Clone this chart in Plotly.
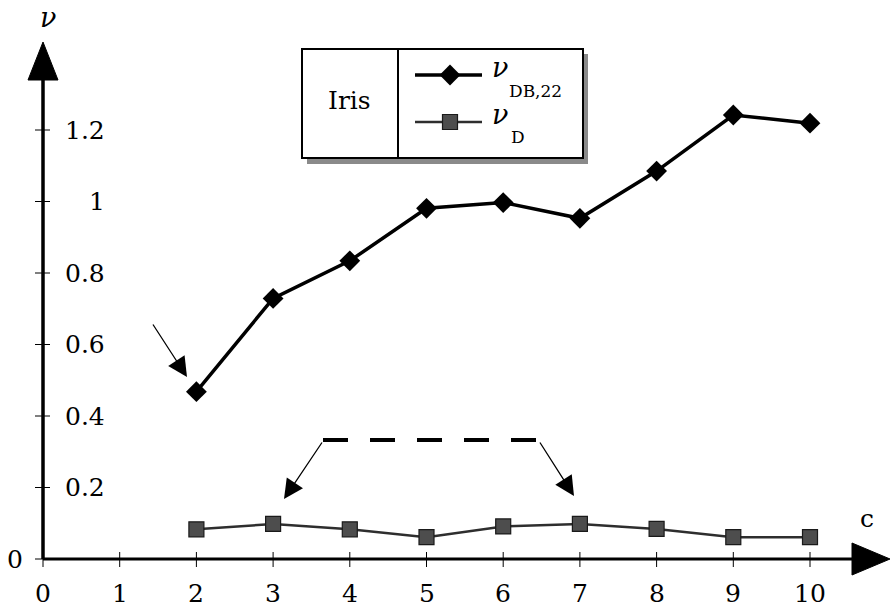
import plotly.graph_objects as go

# ---------------- data ----------------
c_values = [2, 3, 4, 5, 6, 7, 8, 9, 10]
v_db22 = [0.468, 0.729, 0.834, 0.981, 0.997, 0.953, 1.085, 1.242, 1.219]
v_d = [0.083, 0.098, 0.083, 0.061, 0.091, 0.098, 0.084, 0.061, 0.061]

x_ticks = [0, 1, 2, 3, 4, 5, 6, 7, 8, 9, 10]
x_tick_labels = ["0", "1", "2", "3", "4", "5", "6", "7", "8", "9", "10"]
y_ticks = [0.2, 0.4, 0.6, 0.8, 1, 1.2]
y_tick_labels = ["0.2", "0.4", "0.6", "0.8", "1", "1.2"]

# ---------------- layout geometry ----------------
W, H = 891, 608
X0, XS = 43.0, 76.7      # pixel of c=0, pixels per unit
Y0, YS = 559.0, 357.5    # pixel of v=0, pixels per unit
FONT = "DejaVu Serif"

x_range = [-X0 / XS, (W - X0) / XS]
y_range = [-(H - Y0) / YS, Y0 / YS]


def dx(px):
    return px / XS


def dy(px):
    return px / YS


fig = go.Figure()

# data series
fig.add_trace(go.Scatter(
    x=c_values, y=v_d, mode="lines+markers",
    line=dict(color="#2e2e2e", width=2.5),
    marker=dict(symbol="square", size=15, color="#4d4d4d",
                line=dict(color="#1a1a1a", width=1.2)),
    showlegend=False, cliponaxis=False, hoverinfo="skip"))
fig.add_trace(go.Scatter(
    x=c_values, y=v_db22, mode="lines+markers",
    line=dict(color="black", width=3.5),
    marker=dict(symbol="diamond", size=16, color="black"),
    showlegend=False, cliponaxis=False, hoverinfo="skip"))

shapes = []
annotations = []

# ---- axes (data coordinates) ----
x_end = dx(852 - X0)
x_tip = dx(890 - X0)
y_end = dy(Y0 - 80)
y_tip = dy(Y0 - 42)
shapes.append(dict(type="line", xref="x", yref="y", x0=0, x1=x_end, y0=0, y1=0,
                   line=dict(color="black", width=3)))
shapes.append(dict(type="line", xref="x", yref="y", x0=0, x1=0, y0=0, y1=y_end,
                   line=dict(color="black", width=3.5)))
shapes.append(dict(type="path", xref="x", yref="y",
                   path=f"M {x_end},{-dy(16)} L {x_tip},0 L {x_end},{dy(16)} Z",
                   fillcolor="black", line=dict(color="black", width=1)))
shapes.append(dict(type="path", xref="x", yref="y",
                   path=f"M {-dx(15)},{y_end} L 0,{y_tip} L {dx(15)},{y_end} Z",
                   fillcolor="black", line=dict(color="black", width=1)))

for t, lab in zip(x_ticks, x_tick_labels):
    shapes.append(dict(type="line", xref="x", yref="y", x0=t, x1=t,
                       y0=-dy(8), y1=dy(7), line=dict(color="black", width=1)))
    annotations.append(dict(x=t, y=0, xref="x", yref="y", text=lab, showarrow=False,
                            xanchor="center", yanchor="middle", yshift=-34,
                            font=dict(family=FONT, size=25, color="black")))

for t, lab in zip([0] + y_ticks, ["0"] + y_tick_labels):
    shapes.append(dict(type="line", xref="x", yref="y", x0=-dx(8), x1=dx(7),
                       y0=t, y1=t, line=dict(color="black", width=1)))
    if t == 0:
        annotations.append(dict(x=0, y=0, xref="x", yref="y", text=lab, showarrow=False,
                                xanchor="center", yanchor="middle", xshift=-28,
                                font=dict(family=FONT, size=25, color="black")))
    else:
        annotations.append(dict(x=0, y=t, xref="x", yref="y", text=lab, showarrow=False,
                                xanchor="right", yanchor="middle", xshift=64,
                                font=dict(family=FONT, size=25, color="black")))

# ---- decorations in pixel space (overlay axes x2 / y2) ----
def px_text(x, y, text, size, anchor="center", italic=False):
    t = f"<i>{text}</i>" if italic else text
    annotations.append(dict(x=x, y=y, xref="x2", yref="y2", text=t, showarrow=False,
                            xanchor=anchor, yanchor="middle",
                            font=dict(family=FONT, size=size, color="black")))

px_text(48, 17, "ν", 27, italic=True)
px_text(867, 518, "c", 25)

# legend box with shadow (drawn below the traces so the legend markers show)
shapes.append(dict(type="rect", xref="x2", yref="y2", x0=307, x1=588, y0=54, y1=164,
                   fillcolor="#8a8a8a", line=dict(width=0), layer="below"))
shapes.append(dict(type="rect", xref="x2", yref="y2", x0=302, x1=583, y0=49, y1=158,
                   fillcolor="white", line=dict(color="black", width=2), layer="below"))
shapes.append(dict(type="line", xref="x2", yref="y2", x0=398, x1=398, y0=49, y1=158,
                   line=dict(color="black", width=2)))
shapes.append(dict(type="line", xref="x2", yref="y2", x0=415, x1=482, y0=75, y1=75,
                   line=dict(color="black", width=3.5), layer="below"))
shapes.append(dict(type="line", xref="x2", yref="y2", x0=415, x1=482, y0=122, y1=122,
                   line=dict(color="#2e2e2e", width=2.5), layer="below"))
fig.add_trace(go.Scatter(x=[450], y=[75], xaxis="x2", yaxis="y2", mode="markers",
                         marker=dict(symbol="diamond", size=16, color="black"),
                         showlegend=False, hoverinfo="skip"))
fig.add_trace(go.Scatter(x=[450], y=[122], xaxis="x2", yaxis="y2", mode="markers",
                         marker=dict(symbol="square", size=15, color="#4d4d4d",
                                     line=dict(color="#1a1a1a", width=1.2)),
                         showlegend=False, hoverinfo="skip"))
px_text(349, 100, "Iris", 25)
px_text(500, 67, "ν", 27, italic=True)
px_text(507, 91, "DB,22", 17, anchor="left")
px_text(500, 114, "ν", 27, italic=True)
px_text(509, 137, "D", 17, anchor="left")

# callout arrows
def px_arrow(x_tail, y_tail, x_tip_, y_tip_):
    annotations.append(dict(x=x_tip_, y=y_tip_, xref="x2", yref="y2",
                            ax=x_tail, ay=y_tail, axref="x2", ayref="y2",
                            showarrow=True, arrowhead=2, arrowsize=3, arrowwidth=1.3,
                            arrowcolor="black", text=""))

px_arrow(152, 323, 187, 377)
px_arrow(323, 441, 284, 499)
px_arrow(539, 441, 574, 496)
shapes.append(dict(type="line", xref="x2", yref="y2", x0=323, x1=539, y0=440, y1=440,
                   line=dict(color="black", width=4, dash="25px,22px")))

fig.update_layout(
    width=W, height=H,
    margin=dict(l=0, r=0, t=0, b=0),
    paper_bgcolor="white", plot_bgcolor="white",
    xaxis=dict(range=x_range, visible=False, fixedrange=True),
    yaxis=dict(range=y_range, visible=False, fixedrange=True),
    xaxis2=dict(range=[0, W], visible=False, overlaying="x", fixedrange=True),
    yaxis2=dict(range=[H, 0], visible=False, overlaying="y", fixedrange=True),
    shapes=shapes,
    annotations=annotations,
    showlegend=False,
)

fig.write_html("out.html")
